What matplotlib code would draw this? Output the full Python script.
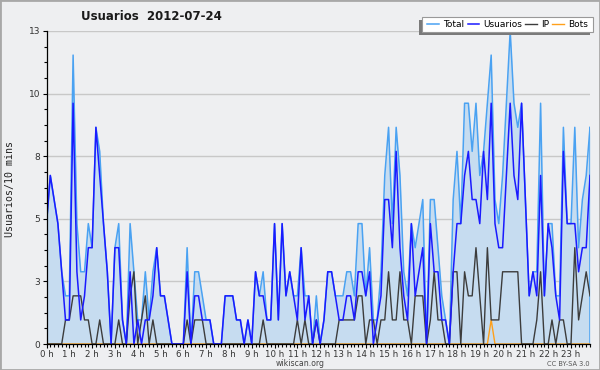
import numpy as np
import matplotlib
matplotlib.use('Agg')
from matplotlib import pyplot as plt
from matplotlib.ticker import MultipleLocator, FixedLocator
from matplotlib.patches import Rectangle

# users per 10 minutes, one row per hour (6 values each)
usuarios = [5, 7, 6, 5, 3, 1,   1, 10, 3, 1, 2, 4,   4, 9, 7, 5, 3, 0,
            4, 4, 1, 0, 3, 0,   1, 0, 1, 1, 2, 4,    2, 2, 1, 0, 0, 0,
            0, 3, 0, 2, 2, 1,   1, 1, 0, 0, 0, 2,    2, 2, 1, 1, 0, 1,
            0, 3, 2, 2, 1, 1,   5, 1, 5, 2, 3, 2,    1, 4, 1, 2, 0, 1,
            0, 1, 3, 3, 2, 1,   1, 2, 2, 1, 3, 3,    2, 3, 0, 1, 2, 6,
            6, 4, 8, 4, 2, 1,   5, 2, 3, 4, 0, 5,    3, 3, 1, 1, 0, 3,
            5, 5, 7, 8, 6, 6,   5, 8, 6, 10, 5, 4,   4, 7, 10, 7, 6, 10,
            6, 2, 3, 2, 7, 2,   5, 4, 2, 1, 8, 5,    5, 5, 3, 4, 4, 7]

ip = [0, 0, 0, 0, 0, 1,   1, 2, 2, 2, 1, 1,   0, 0, 1, 0, 0, 0,
      0, 1, 0, 0, 2, 3,   0, 1, 2, 0, 1, 0,   0, 0, 0, 0, 0, 0,
      0, 1, 0, 1, 1, 1,   0, 0, 0, 0, 0, 0,   0, 0, 0, 0, 0, 0,
      0, 0, 0, 1, 0, 0,   0, 0, 0, 0, 0, 0,   1, 0, 1, 0, 0, 1,
      0, 0, 0, 0, 0, 1,   1, 1, 1, 1, 2, 2,   0, 1, 1, 0, 1, 1,
      3, 1, 1, 3, 1, 1,   0, 2, 2, 2, 0, 1,   3, 1, 1, 0, 0, 3,
      3, 0, 3, 2, 2, 4,   2, 0, 4, 1, 1, 1,   3, 3, 3, 3, 3, 0,
      0, 0, 0, 1, 3, 0,   0, 1, 0, 1, 1, 0,   0, 4, 1, 2, 3, 2]

bots = [0, 0, 0, 0, 0, 0,   0, 0, 0, 0, 0, 0,   0, 0, 0, 0, 0, 0,
        0, 0, 0, 0, 0, 0,   0, 0, 0, 0, 0, 0,   0, 0, 0, 0, 0, 0,
        0, 0, 0, 0, 0, 0,   0, 0, 0, 0, 0, 0,   0, 0, 0, 0, 0, 0,
        0, 0, 0, 0, 0, 0,   0, 0, 0, 0, 0, 0,   0, 0, 0, 0, 0, 0,
        0, 0, 0, 0, 0, 0,   0, 0, 0, 0, 0, 0,   0, 0, 0, 0, 0, 0,
        0, 0, 0, 0, 0, 0,   0, 0, 0, 0, 0, 0,   0, 0, 0, 0, 0, 0,
        0, 0, 0, 0, 0, 0,   0, 0, 0, 1, 0, 0,   0, 0, 0, 0, 0, 0,
        0, 0, 0, 0, 0, 0,   0, 0, 0, 0, 0, 0,   0, 0, 0, 0, 0, 0]

total = [5, 7, 6, 5, 3, 2,   2, 12, 5, 3, 3, 5,   4, 9, 8, 5, 3, 0,
         4, 5, 1, 0, 5, 3,   1, 1, 3, 1, 3, 4,    2, 2, 1, 0, 0, 0,
         0, 4, 0, 3, 3, 2,   1, 1, 0, 0, 0, 2,    2, 2, 1, 1, 0, 1,
         0, 3, 2, 3, 1, 1,   5, 1, 5, 2, 3, 2,    2, 4, 2, 2, 0, 2,
         0, 1, 3, 3, 2, 2,   2, 3, 3, 2, 5, 5,    2, 4, 1, 1, 3, 7,
         9, 5, 9, 7, 3, 2,   5, 4, 5, 6, 0, 6,    6, 4, 2, 1, 0, 6,
         8, 5, 10, 10, 8, 10,  7, 8, 10, 12, 6, 5,  7, 10, 13, 10, 9, 10,
         6, 2, 3, 3, 10, 2,  5, 5, 2, 2, 9, 5,    5, 9, 4, 6, 7, 9]

hour_labels = ['%d h' % h for h in range(24)]
title = 'Usuarios  2012-07-24'
ylabel = 'Usuarios/10 mins'

BG = '#eeeff1'
C_TOTAL = '#4aa2f2'
C_FILL = '#c6dcf0'
C_USERS = '#1a1aff'
C_IP = '#3c3c3c'
C_BOTS = '#ffa01a'

hours = np.arange(len(total)) / 6.0

fig = plt.figure(figsize=(6, 3.7), dpi=100, facecolor=BG)
ax = fig.add_axes([46.5 / 600, 26 / 370, 543.5 / 600, 313 / 370])
ax.set_facecolor(BG)

ax.fill_between(hours, 0, total, color=C_FILL, lw=0, zorder=1)
ax.plot(hours, total, color=C_TOTAL, lw=1.1, label='Total', zorder=2)
ax.plot(hours, bots, color=C_BOTS, lw=1.0, label='Bots', zorder=2.1)
ax.plot(hours, ip, color=C_IP, lw=1.0, label='IP', zorder=2.2)
ax.plot(hours, usuarios, color=C_USERS, lw=1.1, label='Usuarios', zorder=2.3)
# right edge of the filled area
ax.vlines(hours[-1], 0, total[-1], color=C_TOTAL, lw=1.1, zorder=2)

ax.set_xlim(0, hours[-1])
ax.set_ylim(0, 13)

# y ticks at fifths of the max, shown rounded
yt = np.linspace(0, 13, 6)
ax.yaxis.set_major_locator(FixedLocator(yt))
ax.set_yticklabels(['%.0f' % v for v in yt])
ax.yaxis.set_minor_locator(MultipleLocator(13 / 20.0))
ax.xaxis.set_major_locator(FixedLocator(range(24)))
ax.set_xticklabels(hour_labels)
ax.xaxis.set_minor_locator(MultipleLocator(1 / 6.0))

ax.tick_params(which='major', length=3.2, width=0.8, color='black',
               labelsize=6.5, labelcolor='#333333', pad=1.5)
ax.tick_params(axis='x', which='major', labelsize=6.2, pad=0.8)
ax.tick_params(which='minor', length=2.2, width=0.8, color='black')

ax.yaxis.grid(True, color='#c8c8c8', lw=1)
ax.set_axisbelow(True)
for s in ['top', 'right']:
    ax.spines[s].set_visible(False)
for s in ['left', 'bottom']:
    ax.spines[s].set_color('black')
    ax.spines[s].set_linewidth(0.9)
    ax.spines[s].set_zorder(3)

fig.text(151 / 600, 1 - 16 / 370, title, ha='center', va='center',
         fontsize=8.5, fontweight='bold', color='#1a1a1a')
fig.text(10 / 600, 1 - 189 / 370, ylabel, rotation=90, ha='center',
         va='center', fontsize=7.2, family='DejaVu Sans Mono', color='#222222')
fig.text(300 / 600, 1 - 364 / 370, 'wikiscan.org', ha='center', va='center',
         fontsize=5.6, color='#444444')
fig.text(590 / 600, 1 - 364 / 370, 'CC BY-SA 3.0', ha='right', va='center',
         fontsize=4.8, color='#555555')

# legend box (pixels: x 422-593, y 17-32) with its shadow to the lower left
bx0, bx1, by0, by1 = 422 / 600, 593 / 600, 1 - 32 / 370, 1 - 17 / 370
fig.patches.append(Rectangle((bx0 - 3 / 600, by0 - 3 / 370), bx1 - bx0,
                             by1 - by0, transform=fig.transFigure,
                             facecolor='#7a7a7a', edgecolor='none', zorder=3))
fig.patches.append(Rectangle((bx0, by0), bx1 - bx0, by1 - by0,
                             transform=fig.transFigure, facecolor='white',
                             edgecolor='#999999', lw=0.8, zorder=3.1))

h, l = ax.get_legend_handles_labels()
order = [l.index(n) for n in ['Total', 'Usuarios', 'IP', 'Bots']]
leg = fig.legend([h[i] for i in order], [l[i] for i in order], ncol=4,
                 loc='center', bbox_to_anchor=((bx0 + bx1) / 2,
                                               (by0 + by1) / 2),
                 bbox_transform=fig.transFigure, fontsize=6.5, frameon=False,
                 borderpad=0, handlelength=1.3, handletextpad=0.4,
                 columnspacing=0.4, borderaxespad=0)
leg.set_zorder(5)

# thin grey frame round the picture
fig.patches.append(Rectangle((0, 0), 1, 1, transform=fig.transFigure,
                             fill=False, edgecolor='#a8a8a8', lw=2, zorder=6))

fig.savefig('out.png', dpi=100, facecolor=BG)
